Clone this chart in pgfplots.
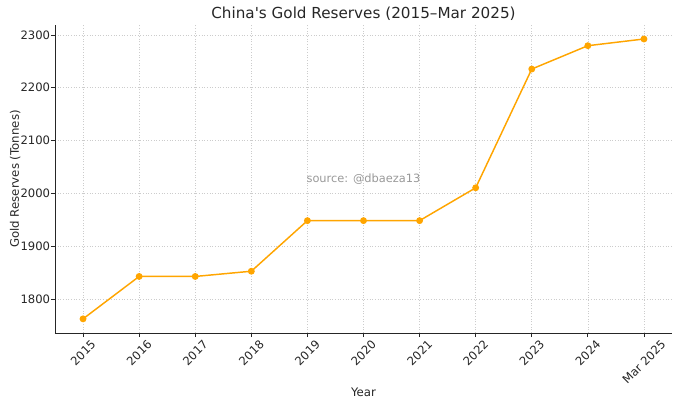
\documentclass[border=0pt]{standalone}
\usepackage{pgfplots}
\pgfplotsset{compat=1.18}
\usepackage{graphicx}
\usepackage{fontspec}
\setmainfont{DejaVu Sans}
\definecolor{gold}{HTML}{FFA500}
\definecolor{txt}{HTML}{262626}
\newcommand{\rl}[1]{\rotatebox{45}{#1}}
\begin{document}
\begin{tikzpicture}[x=1pt,y=1pt]
\path[use as bounding box] (-41.25,-54) rectangle (468,249.75);
\begin{axis}[
  at={(0,0)}, anchor=south west,
  scale only axis, width=462.75pt, height=231pt,
  xmin=-0.5, xmax=10.5, ymin=1735.5, ymax=2318.8,
  axis x line*=bottom, axis y line*=left,
  axis line style={line width=0.6pt, color=txt},
  xtick={0,...,10},
  xticklabels={\rl{2015},\rl{2016},\rl{2017},\rl{2018},\rl{2019},\rl{2020},\rl{2021},\rl{2022},\rl{2023},\rl{2024},\rl{Mar 2025}},
  xticklabel style={anchor=north, font=\fontsize{8.7}{10}\selectfont, text=txt, inner sep=0pt, yshift=-1.6pt},
  ytick={1800,1900,2000,2100,2200,2300},
  yticklabel style={font=\fontsize{8.7}{10}\selectfont, text=txt, inner sep=0.5pt},
  /pgf/number format/assume math mode=true,
  /pgf/number format/1000 sep={},
  tick align=outside, tick pos=left,
  major tick length=3pt,
  tick style={color=txt, line width=0.6pt},
  grid=major,
  major grid style={dash pattern=on 0.8pt off 1.2pt, color=black!20, line width=0.45pt},
  title={China\textquotesingle s Gold Reserves (2015–Mar 2025)},
  title style={font=\fontsize{11.4}{13}\selectfont, text=txt, yshift=-6pt},
  xlabel={Year},
  ylabel={Gold Reserves (Tonnes)},
  label style={font=\fontsize{8.8}{10}\selectfont, text=txt},
  xlabel style={yshift=1pt},
  ylabel style={yshift=-4pt},
]
\addplot[color=gold, line width=1.1pt, mark=*, mark size=2pt, mark options={fill=gold, draw=gold}]
coordinates {
(0,1762.3) (1,1842.6) (2,1842.6) (3,1852.5) (4,1948.3) (5,1948.3)
(6,1948.3) (7,2010.5) (8,2235.4) (9,2279.6) (10,2292.3)
};
\node[text=black!40, font=\fontsize{8.55}{10}\selectfont] at (axis cs:5,2026) {source: @dbaeza13};
\end{axis}
\end{tikzpicture}
\end{document}
